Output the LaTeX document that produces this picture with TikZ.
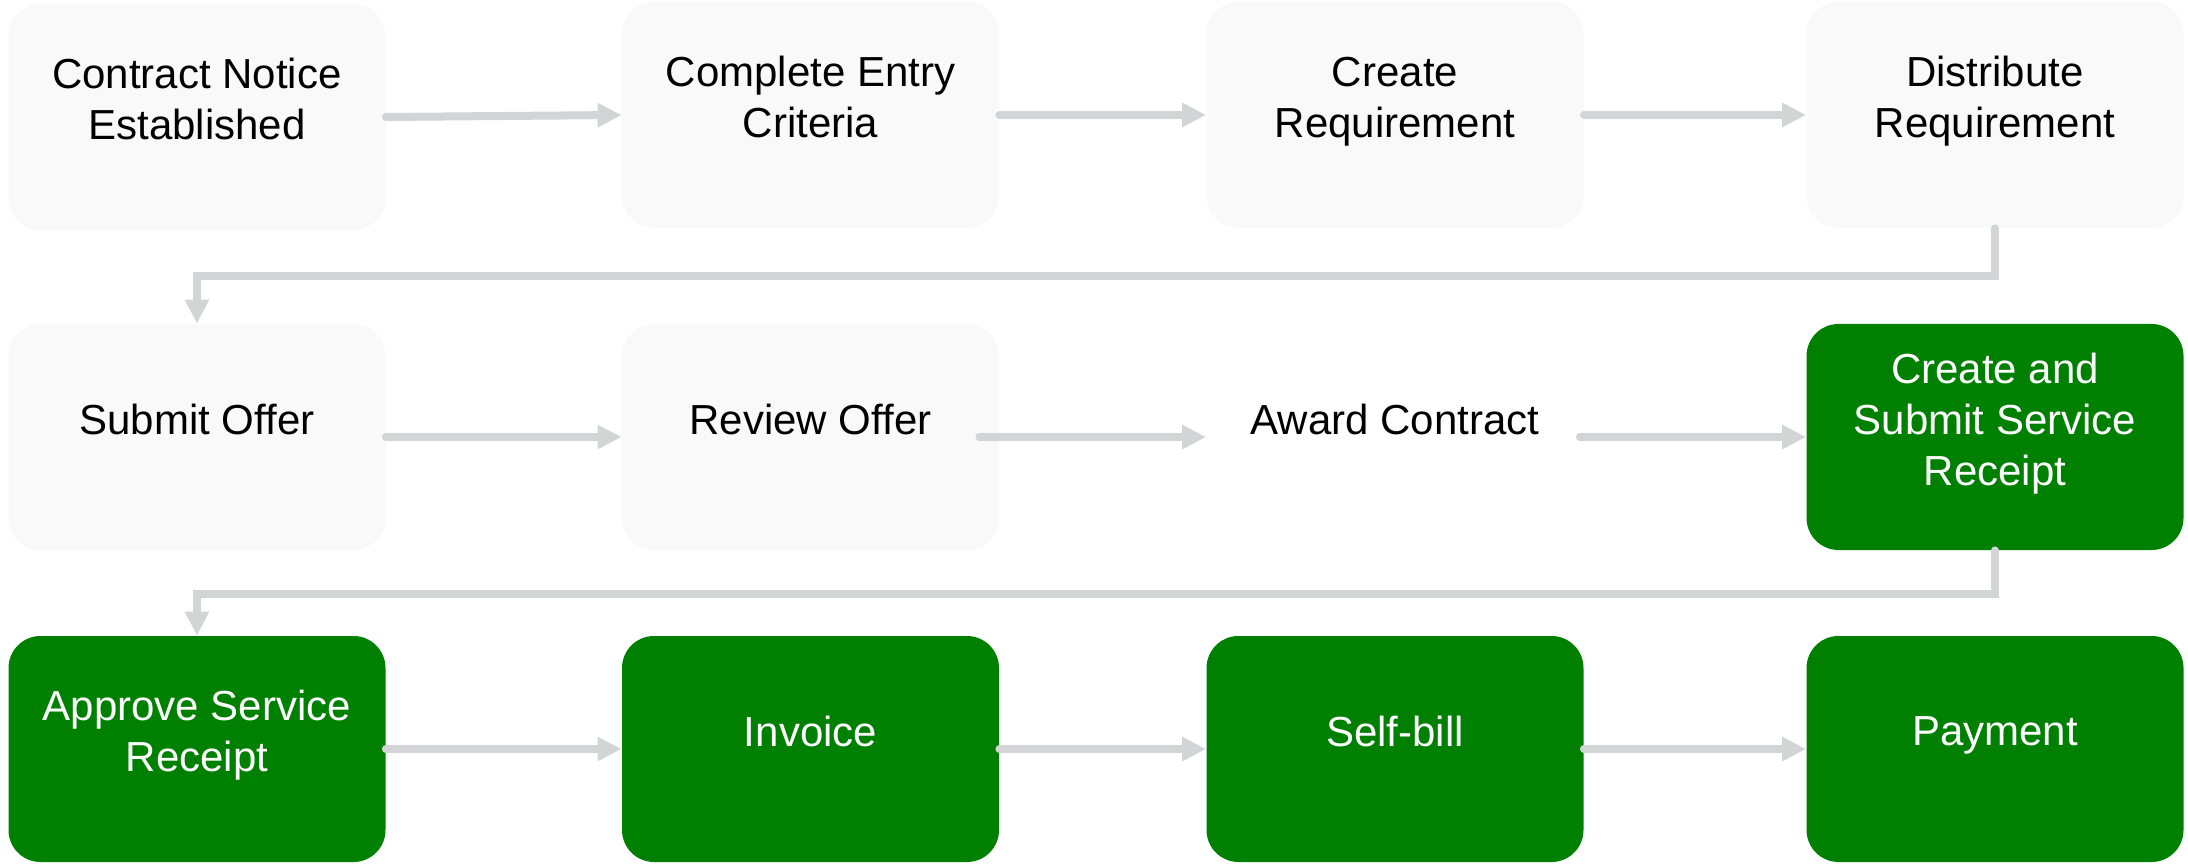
\documentclass[tikz,border=0pt]{standalone}
\usepackage{fontspec}
\setmainfont{Liberation Sans}
\usetikzlibrary{arrows.meta}
\definecolor{boxgray}{HTML}{F9F9F9}
\definecolor{boxgreen}{HTML}{008000}
\definecolor{conngray}{HTML}{D3D4D6}
\begin{document}
\begin{tikzpicture}[x=0.5pt,y=-0.5pt,
 box/.style={rectangle, rounded corners=16pt, minimum width=188.5pt, minimum height=113pt, inner sep=0pt, draw=none},
 lightbox/.style={box, fill=boxgray},
 greenbox/.style={box, fill=boxgreen},
 plainbox/.style={box},
 txt/.style={align=center, font=\fontsize{21}{25.5}\selectfont, text depth=0pt, yshift=9pt, inner sep=0pt},
 dark/.style={txt, text=black},
 light/.style={txt, text=white},
 conn/.style={draw=conngray, line width=4pt, line cap=round, -{Triangle[length=12pt,width=11.5pt]}},
]
\useasboundingbox (0,0) rectangle (2188,865);
% row 1
\node[lightbox, label={[dark]center:{Contract Notice\\Established}}] (a) at (197,117) {};
\node[lightbox, label={[dark]center:{Complete Entry\\Criteria}}] (b) at (810.5,115) {};
\node[lightbox, label={[dark]center:{Create\\Requirement}}] (c) at (1395,115) {};
\node[lightbox, label={[dark]center:{Distribute\\Requirement}}] (d) at (1995,115) {};
% row 2
\node[lightbox, label={[dark]center:{Submit Offer}}] (e) at (197,437) {};
\node[lightbox, label={[dark]center:{Review Offer}}] (f) at (810.5,437) {};
\node[plainbox, label={[dark]center:{Award Contract}}] (g) at (1395,437) {};
\node[greenbox, label={[light]center:{Create and\\Submit Service\\Receipt}}] (h) at (1995,437) {};
% row 3
\node[greenbox, label={[light]center:{Approve Service\\Receipt}}] (i) at (197,749) {};
\node[greenbox, label={[light]center:{Invoice}}] (j) at (810.5,749) {};
\node[greenbox, label={[light]center:{Self-bill}}] (k) at (1395,749) {};
\node[greenbox, label={[light]center:{Payment}}] (l) at (1995,749) {};
% connectors
\draw[conn] (a.east) -- (b.west);
\draw[conn] (b.east) -- (c.west);
\draw[conn] (c.east) -- (d.west);
\draw[conn] (d.south) -- ++(0,48) -| (e.north);
\draw[conn] (e.east) -- (f.west);
\draw[conn] ([xshift=-10pt]f.east) -- (g.west);
\draw[conn] ([xshift=-2pt]g.east) -- (h.west);
\draw[conn] (h.south) -- ++(0,44) -| (i.north);
\draw[conn] (i.east) -- (j.west);
\draw[conn] (j.east) -- (k.west);
\draw[conn] (k.east) -- (l.west);
\end{tikzpicture}
\end{document}
